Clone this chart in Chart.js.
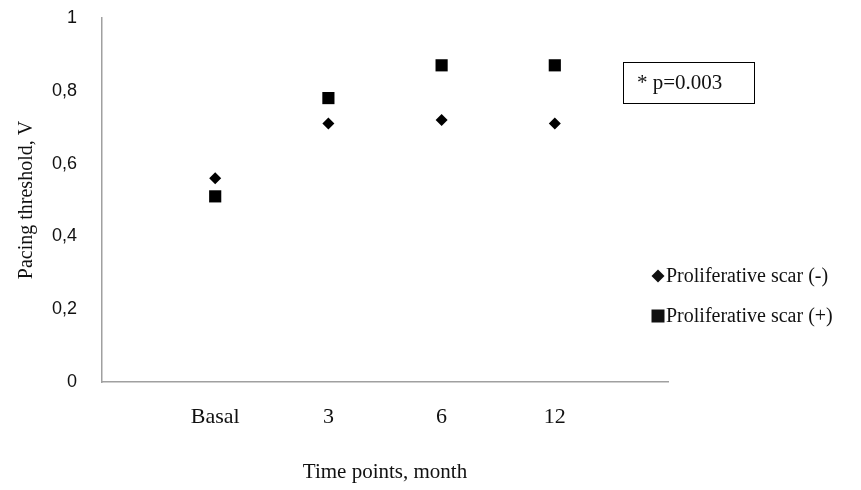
<!DOCTYPE html>
<html lang="en">
<head>
<meta charset="UTF-8" />
<title>Pacing threshold over time</title>
<script src="https://cdn.jsdelivr.net/npm/chart.js"></script>
<style>
  body { margin: 0; background: #ffffff; }
  #wrap { width: 861px; height: 490px; }
</style>
</head>
<body>
<div id="wrap"><canvas id="chart" width="861" height="490"></canvas></div>
<script>
  // data
  const timePoints = ["Basal", "3", "6", "12"];
  const scarNegative = [0.56, 0.71, 0.72, 0.71];
  const scarPositive = [0.51, 0.78, 0.87, 0.87];
  const seriesNames = ["Proliferative scar (-)", "Proliferative scar (+)"];
  const pValueNote = "* p=0.003";

  const serif = '"Liberation Serif", "Times New Roman", serif';
  const ink = "#111111";

  // x positions are 1..n on a 0..n+1 linear axis
  const toPoints = (vals) => vals.map((v, i) => ({ x: i + 1, y: v }));

  function drawMarker(ctx, style, x, y) {
    ctx.beginPath();
    if (style === "rectRot") {
      ctx.moveTo(x, y - 6.5);
      ctx.lineTo(x + 6.5, y);
      ctx.lineTo(x, y + 6.5);
      ctx.lineTo(x - 6.5, y);
      ctx.closePath();
    } else {
      ctx.rect(x - 6.5, y - 6.5, 13, 13);
    }
    ctx.fill();
  }

  // legend + p-value box, drawn beside the plot area
  const notesPlugin = {
    id: "notes",
    afterDraw(chart) {
      const ctx = chart.ctx;
      const area = chart.chartArea;
      ctx.save();
      ctx.fillStyle = ink;
      ctx.strokeStyle = "#000000";
      ctx.lineWidth = 1;
      ctx.strokeRect(area.right - 44.5, 62.5, 131, 41);
      ctx.font = "21px " + serif;
      ctx.textBaseline = "middle";
      ctx.textAlign = "left";
      ctx.fillText(pValueNote, area.right - 31, 83);

      ctx.font = "20px " + serif;
      chart.data.datasets.forEach((ds, i) => {
        const y = 276 + i * 40;
        drawMarker(ctx, ds.pointStyle, area.right - 10, y);
        ctx.fillText(ds.label, area.right - 2, y + 1);
      });
      ctx.restore();
    }
  };

  // invisible tick marks give the label gap without inflating the layout padding
  const hiddenTicks = (len) => ({
    display: true,
    drawOnChartArea: false,
    drawTicks: true,
    tickLength: len,
    tickColor: "rgba(0,0,0,0)"
  });

  new Chart(document.getElementById("chart"), {
    type: "scatter",
    data: {
      datasets: [
        {
          label: seriesNames[0],
          data: toPoints(scarNegative),
          pointStyle: "rectRot",
          pointRadius: 6,
          pointBorderWidth: 0,
          backgroundColor: "#000000",
          borderColor: "#000000",
          showLine: false
        },
        {
          label: seriesNames[1],
          data: toPoints(scarPositive),
          pointStyle: "rect",
          pointRadius: 8.6,
          pointBorderWidth: 0,
          backgroundColor: "#000000",
          borderColor: "#000000",
          showLine: false
        }
      ]
    },
    options: {
      responsive: false,
      animation: false,
      layout: { padding: { left: 0, top: 18, right: 193, bottom: 0 } },
      plugins: {
        legend: { display: false },
        tooltip: { enabled: false }
      },
      scales: {
        x: {
          type: "linear",
          min: 0,
          max: timePoints.length + 1,
          grid: hiddenTicks(19),
          border: { display: true, color: "#a0a0a0", width: 1.5 },
          afterBuildTicks: (scale) => {
            scale.ticks = timePoints.map((_, i) => ({ value: i + 1 }));
          },
          afterFit: (scale) => { scale.height = 108; },
          ticks: {
            padding: 3,
            color: ink,
            font: { family: serif, size: 22 },
            callback: (v) => timePoints[v - 1] || ""
          },
          title: {
            display: true,
            text: "Time points, month",
            color: ink,
            font: { family: serif, size: 21 },
            padding: { top: 0, bottom: 5 }
          }
        },
        y: {
          min: 0,
          max: 1,
          grid: hiddenTicks(22),
          border: { display: true, color: "#a0a0a0", width: 1.5 },
          afterFit: (scale) => { scale.width = 102; },
          ticks: {
            stepSize: 0.2,
            padding: 3,
            color: ink,
            font: { family: '"Liberation Sans", Arial, sans-serif', size: 18 },
            callback: (v) => String(+v.toFixed(1)).replace(".", ",")
          },
          title: {
            display: true,
            text: "Pacing threshold, V",
            color: ink,
            font: { family: serif, size: 20 },
            padding: { top: 15, bottom: 0 }
          }
        }
      }
    },
    plugins: [notesPlugin]
  });
</script>
</body>
</html>
